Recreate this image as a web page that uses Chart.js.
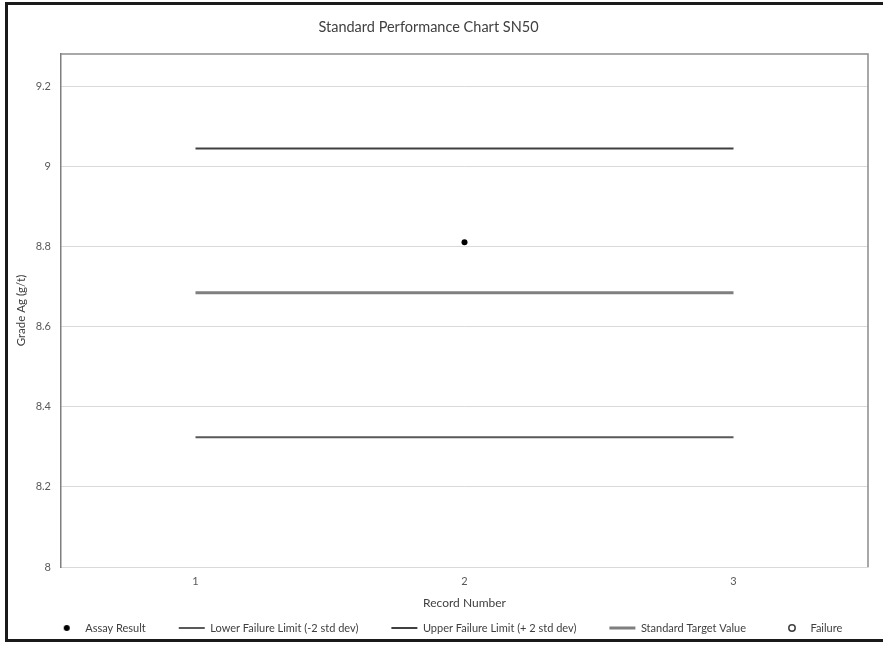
<!DOCTYPE html>
<html>
<head>
<meta charset="utf-8">
<script src="https://cdn.jsdelivr.net/npm/chart.js@4/dist/chart.umd.min.js"></script>
<style>
  html, body { margin: 0; padding: 0; background: #ffffff; overflow: hidden; }
  #frame {
    position: absolute; left: 5px; top: 2px; width: 900px; height: 640px;
    border: 3px solid #1a1a1a; border-right: none; box-sizing: border-box;
  }
  #wrap { position: absolute; left: 0; top: 0; width: 883px; height: 647px; }
</style>
</head>
<body>
<div id="frame"></div>
<div id="wrap"><canvas id="chart" width="883" height="647"></canvas></div>
<script>
// Record numbers along the x axis
const recordNumbers = ['1', '2', '3'];
// Assay results per record (only record 2 has a result)
const assayResult = [null, 8.81, null];
// Control limits and target for standard SN50 (g/t)
const lowerFailureLimit = [8.324, 8.324, 8.324];
const upperFailureLimit = [9.044, 9.044, 9.044];
const standardTargetValue = [8.684, 8.684, 8.684];
// Records flagged as failures (none)
const failure = [null, null, null];
// Y axis tick values
const yTicks = [8, 8.2, 8.4, 8.6, 8.8, 9, 9.2];

const FONT = 'Lato, "Open Sans", sans-serif';

// Small marker images for the point-style legend entries
function markerImage(fill, stroke) {
  const c = document.createElement('canvas');
  c.width = 10; c.height = 10;
  const g = c.getContext('2d');
  g.beginPath();
  g.arc(5, 5, fill ? 3 : 3.2, 0, Math.PI * 2);
  if (fill) { g.fillStyle = fill; g.fill(); }
  if (stroke) { g.lineWidth = 1.5; g.strokeStyle = stroke; g.stroke(); }
  return c;
}
const dotMarker = markerImage('#000000', null);
const ringMarker = markerImage(null, '#404040');

// Outline of the plot area (top and right edges)
const plotFrame = {
  id: 'plotFrame',
  beforeDatasetsDraw(chart) {
    const { ctx, chartArea: a } = chart;
    ctx.save();
    ctx.strokeStyle = '#8c8c8c';
    ctx.lineWidth = 1.5;
    ctx.beginPath();
    ctx.moveTo(a.left, a.top);
    ctx.lineTo(a.right, a.top);
    ctx.lineTo(a.right, a.bottom);
    ctx.stroke();
    ctx.restore();
  }
};

// Nudge the title left and the legend right of the canvas centre
const blockShift = {
  id: 'blockShift',
  afterLayout(chart) {
    const t = chart.titleBlock;
    if (t) { t.left -= 9.5; t.right -= 9.5; }
    const l = chart.legend;
    if (l) { l.left += 10; l.right += 10; }
  }
};

const legendStyles = [
  { pointStyle: dotMarker },
  { pointStyle: 'line', strokeStyle: '#595959', lineWidth: 2 },
  { pointStyle: 'line', strokeStyle: '#404040', lineWidth: 2 },
  { pointStyle: 'line', strokeStyle: '#7f7f7f', lineWidth: 3 },
  { pointStyle: ringMarker }
];

new Chart(document.getElementById('chart'), {
  type: 'line',
  data: {
    labels: recordNumbers,
    datasets: [
      {
        label: 'Assay Result', data: assayResult, showLine: false,
        pointRadius: 3, pointBackgroundColor: '#000000', pointBorderColor: '#000000', pointBorderWidth: 0
      },
      {
        label: 'Lower Failure Limit (-2 std dev)', data: lowerFailureLimit,
        borderColor: '#595959', borderWidth: 2, pointRadius: 0
      },
      {
        label: 'Upper Failure Limit (+ 2 std dev)', data: upperFailureLimit,
        borderColor: '#404040', borderWidth: 2, pointRadius: 0
      },
      {
        label: 'Standard Target Value', data: standardTargetValue,
        borderColor: '#7f7f7f', borderWidth: 3, pointRadius: 0
      },
      {
        label: 'Failure', data: failure, showLine: false,
        pointRadius: 3.5, pointBackgroundColor: '#ffffff', pointBorderColor: '#404040', pointBorderWidth: 1.5
      }
    ]
  },
  options: {
    responsive: false,
    animation: false,
    events: [],
    layout: { padding: { left: 8, right: 15, top: 0, bottom: 3.5 } },
    plugins: {
      title: {
        display: true,
        text: 'Standard Performance Chart SN50',
        color: '#404040',
        font: { family: FONT, size: 14.5, weight: 'normal' },
        padding: { top: 18.3, bottom: 18.3 }
      },
      legend: {
        position: 'bottom',
        labels: {
          usePointStyle: true,
          pointStyleWidth: 26,
          padding: 33,
          color: '#404040',
          font: { family: FONT, size: 11 },
          generateLabels(chart) {
            const items = Chart.defaults.plugins.legend.labels.generateLabels(chart);
            return items.map((it, i) => Object.assign(it, legendStyles[i], { fillStyle: 'transparent' }));
          }
        }
      },
      tooltip: { enabled: false }
    },
    scales: {
      x: {
        offset: true,
        grid: { display: false, drawTicks: false },
        border: { color: '#d9d9d9', width: 1 },
        ticks: { color: '#595959', font: { family: FONT, size: 11 }, padding: 8 },
        title: {
          display: true, text: 'Record Number', color: '#404040',
          font: { family: FONT, size: 12 }, padding: { top: 0, bottom: -20.7 }
        },
        afterFit(scale) { scale.height = 22.5; }
      },
      y: {
        min: 8,
        max: 9.28,
        afterBuildTicks(scale) { scale.ticks = yTicks.map(v => ({ value: v })); },
        grid: { color: '#d9d9d9', lineWidth: 1, drawTicks: false },
        border: { color: '#7f7f7f', width: 1.5 },
        ticks: {
          color: '#595959', font: { family: FONT, size: 11 }, padding: 10,
          callback: v => String(Math.round(v * 10) / 10)
        },
        title: {
          display: true, text: 'Grade Ag (g/t)', color: '#404040',
          font: { family: FONT, size: 11.5 }, padding: { top: 6.4, bottom: 0 }
        },
        afterFit(scale) { scale.width = 53; }
      }
    }
  },
  plugins: [plotFrame, blockShift]
});
</script>
</body>
</html>
